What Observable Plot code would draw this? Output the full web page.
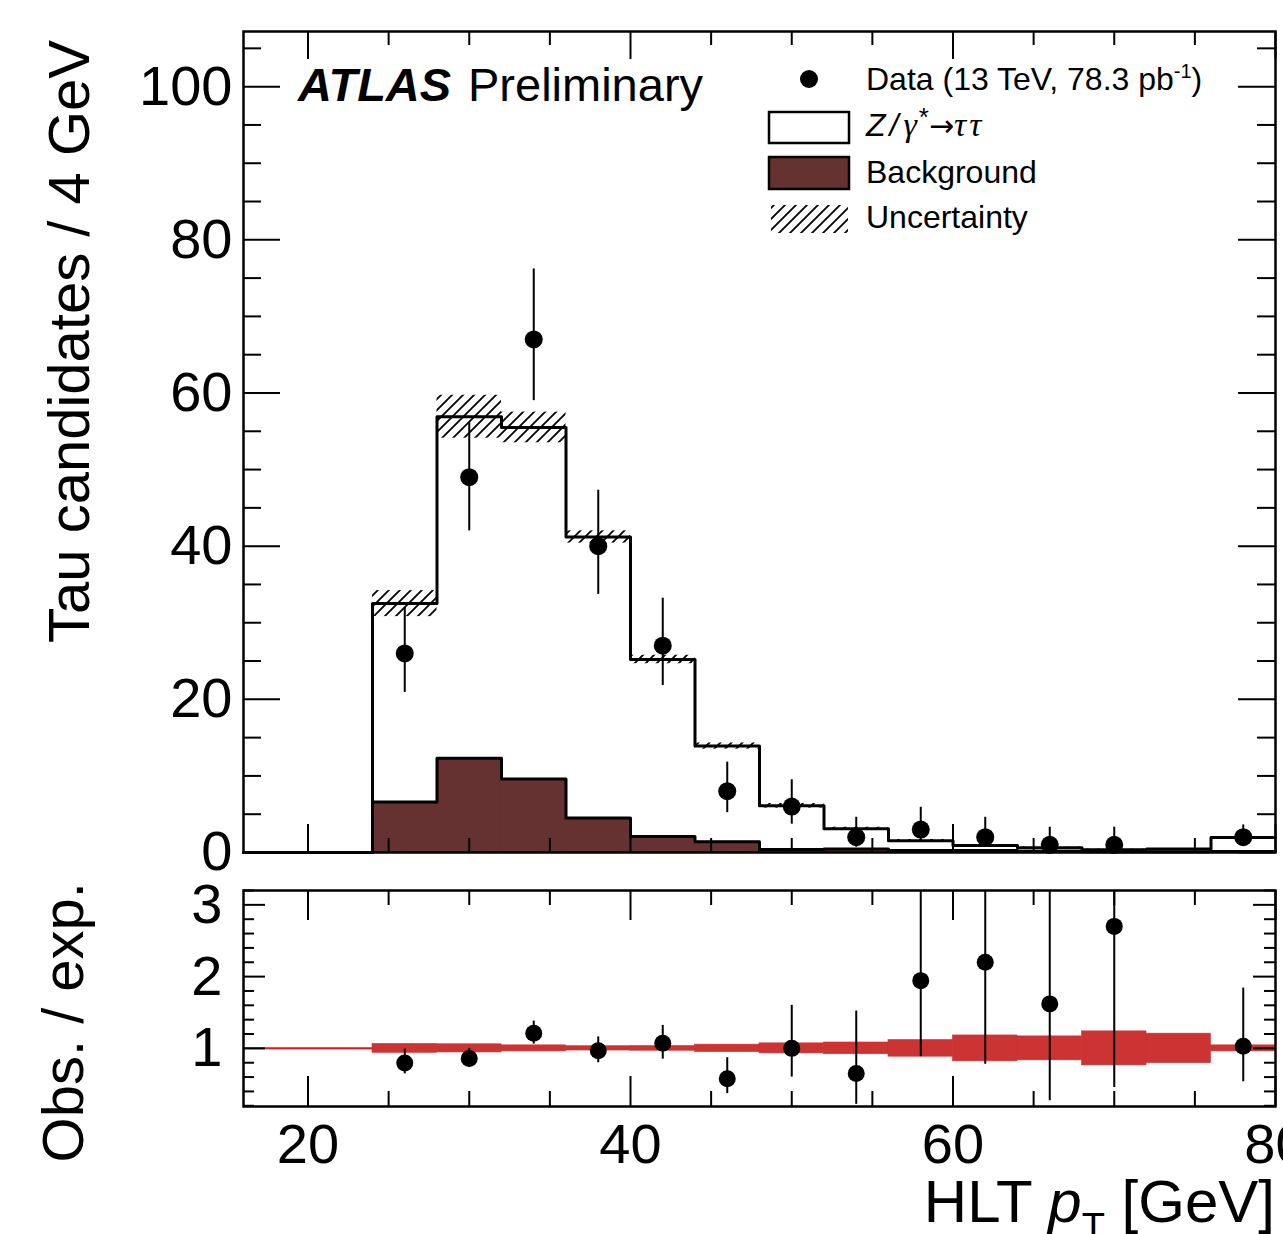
<!DOCTYPE html>
<html><head><meta charset="utf-8">
<script src="https://cdn.jsdelivr.net/npm/d3@7"></script>
<script src="https://cdn.jsdelivr.net/npm/@observablehq/plot@0.6"></script>
<style>
html,body{margin:0;padding:0;background:#fff;overflow:hidden;}
#wrap{position:relative;width:1283px;height:1234px;background:#fff;}
#wrap svg{position:absolute;left:0;overflow:visible;}
</style></head><body><div id="wrap"></div>
<script>
// ---- data ----
const binEdges   = [16,20,24,28,32,36,40,44,48,52,56,60,64,68,72,76,80];
const totalExp   = [0,0,32.5,56.9,55.5,41.2,25.2,13.9,6.1,3.1,1.55,0.9,0.62,0.37,0.45,1.95];
const background = [0,0,6.6,12.3,9.6,4.5,2.1,1.4,0.4,0.45,0.25,0.25,0.15,0.1,0.1,0.12];
const totalUnc   = [0,0,1.7,2.8,2.0,0.8,0.55,0.4,0.3,0.2,0.15,0.12,0.08,0.07,0.07,0.08];
const ratioUnc   = [0,0,0.062,0.057,0.042,0.03,0.033,0.052,0.07,0.082,0.116,0.18,0.167,0.237,0.205,0.042];

const dataX  = [26,30,34,38,42,46,50,54,58,62,66,70,78];
const dataY  = [26,49,67,40,27,8,6,2,3,2,1,1,2];
const dataHi = [32.0,56.1,76.2,47.3,33.2,11.8,9.5,4.6,5.9,4.6,3.3,3.3,3.6];
const dataLo = [20.9,42.0,59.0,33.7,21.8,5.2,3.7,0.7,1.4,0.7,0.17,0.17,1.0];

const ratioY  = [0.795,0.86,1.21,0.967,1.07,0.577,1.0,0.65,1.944,2.2,1.62,2.70,1.03];
const ratioHi = [0.99,1.0,1.38,1.16,1.32,0.87,1.6,1.52,3.8,5.1,5.3,8.9,1.84];
const ratioLo = [0.645,0.74,1.06,0.80,0.85,0.37,0.6,0.22,0.884,0.78,0.27,0.456,0.535];

const xMajorTicks = [20,40,60,80];
const xMinorTicks = [25,30,35,45,50,55,65,70,75];
const yMainMajor  = [0,20,40,60,80,100];
const yMainMinor  = [5,10,15,25,30,35,45,50,55,65,70,75,85,90,95,105];
const yRatioMajor = [1,2,3];
const yRatioMinor = [0.2,0.4,0.6,0.8,1.2,1.4,1.6,1.8,2.2,2.4,2.6,2.8,3.2];

// ---- styling / layout ----
const FONT = "'Liberation Sans', Arial, Helvetica, sans-serif";
const SERIF = "'Liberation Serif', 'Times New Roman', serif";
const BROWN = "#663131";
const BAND = "#cc3333";
const W = 1283, ML = 243, MR = 8;
const FW = W - ML - MR;
const mainH = 870, mainMT = 31, mainMB = 18, mainFH = mainH - mainMT - mainMB;
const rH = 364, rMT = 20, rMB = 128, rFH = rH - rMT - rMB;

const bins = totalExp.map((t, i) => ({x1: binEdges[i], x2: binEdges[i+1], total: t, bkg: background[i], unc: totalUnc[i], runc: ratioUnc[i]}));
const filled = bins.filter(d => d.total > 0);
const stepPts = vals => binEdges.map((x, i) => ({x, y: vals[Math.min(i, vals.length - 1)]}));
const dataTable = dataX.map((x, i) => ({x, y: dataY[i], lo: dataLo[i], hi: dataHi[i]}));
const ratioTable = dataX.map((x, i) => ({x, y: ratioY[i], lo: ratioLo[i], hi: ratioHi[i]}));

const tk = {stroke: "black", strokeWidth: 2};
const xTicks = (vals, len, fh) => [
  Plot.tickX(vals, {x: d => d, insetTop: fh - len, ...tk}),
  Plot.tickX(vals, {x: d => d, insetBottom: fh - len, ...tk})
];
const yTicks = (vals, len) => [
  Plot.tickY(vals, {y: d => d, insetRight: FW - len, ...tk}),
  Plot.tickY(vals, {y: d => d, insetLeft: FW - len, ...tk})
];

const main = Plot.plot({
  width: W, height: mainH, marginLeft: ML, marginRight: MR, marginTop: mainMT, marginBottom: mainMB,
  x: {domain: [16, 80], axis: null},
  y: {domain: [0, 107.2]},
  style: {fontFamily: FONT, background: "transparent", color: "black"},
  marks: [
    Plot.rect(filled, {x1: "x1", x2: "x2", y1: 0, y2: "total", fill: "white"}),
    Plot.rect(filled, {x1: "x1", x2: "x2", y1: 0, y2: "bkg", fill: BROWN, stroke: BROWN, strokeWidth: 0.8}),
    Plot.line(stepPts(background), {x: "x", y: "y", curve: "step-after", stroke: "black", strokeWidth: 3}),
    Plot.line(stepPts(totalExp), {x: "x", y: "y", curve: "step-after", stroke: "black", strokeWidth: 3}),
    Plot.rect(filled, {x1: "x1", x2: "x2", y1: d => d.total - d.unc, y2: d => d.total + d.unc, fill: "url(#hatch)"}),
    Plot.ruleX(dataTable, {x: "x", y1: "lo", y2: "hi", stroke: "black", strokeWidth: 2}),
    Plot.dot(dataTable, {x: "x", y: "y", r: 9, fill: "black"}),
    ...xTicks(xMajorTicks, 28, mainFH), ...xTicks(xMinorTicks, 14, mainFH),
    ...yTicks(yMainMajor, 37), ...yTicks(yMainMinor, 18),
    Plot.axisY({ticks: yMainMajor, tickSize: 0, tickPadding: 11, fontSize: 56, label: null, anchor: "left", tickFormat: "d"}),
    Plot.frame({stroke: "black", strokeWidth: 2.5})
  ]
});

const ratio = Plot.plot({
  width: W, height: rH, marginLeft: ML, marginRight: MR, marginTop: rMT, marginBottom: rMB,
  x: {domain: [16, 80]},
  y: {domain: [0.19, 3.2]},
  style: {fontFamily: FONT, background: "transparent", color: "black"},
  marks: [
    Plot.ruleY([1], {stroke: "#e8141b", strokeWidth: 2}),
    Plot.rect(filled, {x1: "x1", x2: "x2", y1: d => 1 - d.runc, y2: d => 1 + d.runc, fill: BAND, stroke: BAND, strokeWidth: 0.6}),
    Plot.ruleX(ratioTable, {x: "x", y1: "lo", y2: "hi", stroke: "black", strokeWidth: 2, clip: true}),
    Plot.dot(ratioTable, {x: "x", y: "y", r: 8.5, fill: "black"}),
    ...xTicks(xMajorTicks, 30, rFH), ...xTicks(xMinorTicks, 15, rFH),
    ...yTicks(yRatioMajor, 22), ...yTicks(yRatioMinor, 11),
    Plot.axisY({ticks: yRatioMajor, tickSize: 0, tickPadding: 21, fontSize: 56, label: null, anchor: "left", tickFormat: "d"}),
    Plot.axisX({ticks: xMajorTicks, tickSize: 0, tickPadding: 17, fontSize: 56, label: null, anchor: "bottom", tickFormat: "d"}),
    Plot.frame({stroke: "black", strokeWidth: 2.5})
  ]
});

const wrap = document.getElementById("wrap");
main.style.top = "0px";
ratio.style.top = mainH + "px";
wrap.appendChild(main);
wrap.appendChild(ratio);

// hatch pattern
const ms = d3.select(main);
const defs = ms.insert("defs", ":first-child");
const pat = defs.append("pattern").attr("id", "hatch").attr("patternUnits", "userSpaceOnUse")
  .attr("width", 11).attr("height", 11);
pat.append("path").attr("d", "M-1,1 L1,-1 M0,11 L11,0 M10,12 L12,10")
  .attr("stroke", "black").attr("stroke-width", 1.8).attr("fill", "none");

// titles
ms.append("text").attr("transform", "translate(89,40) rotate(-90)").attr("text-anchor", "end")
  .attr("font-size", 58).attr("font-family", FONT).attr("fill", "black").text("Tau candidates / 4 GeV");
const rs = d3.select(ratio);
rs.append("text").attr("transform", "translate(83,12) rotate(-90)").attr("text-anchor", "end")
  .attr("font-size", 58).attr("font-family", FONT).attr("fill", "black").text("Obs. / exp.");
const xt = rs.append("text").attr("x", 1275).attr("y", 352).attr("text-anchor", "end")
  .attr("font-size", 60).attr("font-family", FONT).attr("fill", "black");
xt.append("tspan").text("HLT ");
xt.append("tspan").attr("font-style", "italic").text("p");
xt.append("tspan").attr("font-size", 38).attr("dy", 18).text("T");
xt.append("tspan").attr("dy", -18).text(" [GeV]");

// ATLAS label
const at = ms.append("text").attr("x", 298).attr("y", 101).attr("text-anchor", "start")
  .attr("font-size", 47).attr("font-family", FONT).attr("fill", "black");
at.append("tspan").attr("font-weight", "bold").attr("font-style", "italic").text("ATLAS");
at.append("tspan").attr("x", 468).text("Preliminary");

// legend
const lg = ms.append("g").attr("font-family", FONT).attr("font-size", 32).attr("fill", "black").attr("text-anchor", "start");
lg.append("circle").attr("cx", 809).attr("cy", 79).attr("r", 9).attr("fill", "black");
const t1 = lg.append("text").attr("x", 866).attr("y", 90);
t1.append("tspan").text("Data (13 TeV, 78.3 pb");
t1.append("tspan").attr("font-size", 20).attr("dy", -12).text("-1");
t1.append("tspan").attr("dy", 12).text(")");
lg.append("rect").attr("x", 769).attr("y", 112).attr("width", 80).attr("height", 31)
  .attr("fill", "white").attr("stroke", "black").attr("stroke-width", 2.5);
const t2 = lg.append("text").attr("x", 866).attr("y", 136);
t2.append("tspan").attr("font-style", "italic").text("Z");
t2.append("tspan").attr("dx", 4).attr("font-style", "italic").text("/");
t2.append("tspan").attr("dx", 5).attr("font-family", SERIF).attr("font-style", "italic").attr("font-size", 34).text("γ");
t2.append("tspan").attr("dx", 2).attr("font-size", 26).attr("dy", -10).text("*");
t2.append("tspan").attr("dy", 10).attr("font-family", "'DejaVu Sans', sans-serif").attr("font-size", 30).text("→");
t2.append("tspan").attr("font-family", SERIF).attr("font-style", "italic").attr("font-size", 34).text("τ");
t2.append("tspan").attr("dx", 3).attr("font-family", SERIF).attr("font-style", "italic").attr("font-size", 34).text("τ");
lg.append("rect").attr("x", 769).attr("y", 157).attr("width", 80).attr("height", 32)
  .attr("fill", BROWN).attr("stroke", "black").attr("stroke-width", 2.5);
lg.append("text").attr("x", 866).attr("y", 183).text("Background");
lg.append("rect").attr("x", 771).attr("y", 205).attr("width", 77).attr("height", 28).attr("fill", "url(#hatch)");
lg.append("text").attr("x", 866).attr("y", 228).text("Uncertainty");
</script></body></html>
